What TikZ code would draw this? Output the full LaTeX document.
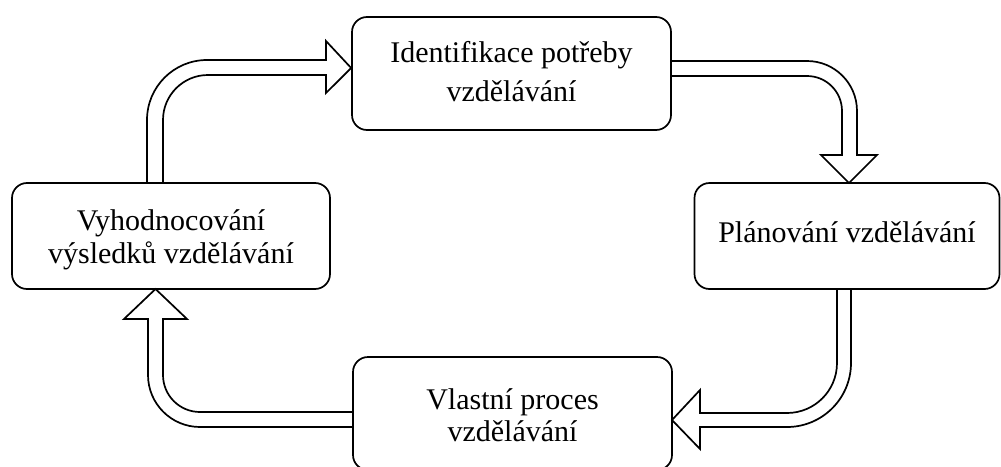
\documentclass[tikz,border=0pt]{standalone}
\usepackage{fontspec}
\setmainfont{Liberation Serif}
\begin{document}
\begin{tikzpicture}[x=1pt,y=-1pt,
  box/.style={draw, line width=1.7pt, rounded corners=15pt, inner sep=0pt},
  boxtext/.style={align=center, inner sep=0pt, font=\fontsize{30}{#1}\selectfont},
  blockarrow/.style={draw, line width=1.7pt, line join=miter}]
\useasboundingbox (0,0) rectangle (1001,466);
\node[box, minimum width=319pt, minimum height=113pt,
  label={[boxtext=39, yshift=2pt]center:Identifikace potřeby\\vzdělávání}] (T) at (511.5,73.5) {};
\node[box, minimum width=305pt, minimum height=106pt,
  label={[boxtext=32, yshift=4pt]center:Plánování vzdělávání}] (R) at (847,236) {};
\node[box, minimum width=319pt, minimum height=113pt,
  label={[boxtext=32, yshift=-2pt]center:Vlastní proces\\vzdělávání}] (B) at (512.5,413.5) {};
\node[box, minimum width=318pt, minimum height=106pt,
  label={[boxtext=33, yshift=-4pt]center:Vyhodnocování\\výsledků vzdělávání}] (L) at (171,236) {};
% L -> T
\draw[blockarrow] (147,183) [rounded corners=60pt] -- (147,60) [sharp corners] -- (326,60)
  -- (326,41) -- (T.west |- 0,68) -- (326,93) -- (326,75) [rounded corners=45pt] -- (163,75) [sharp corners] -- (163,183);
% T -> R
\draw[blockarrow] (671,61) [rounded corners=50pt] -- (857,61) [sharp corners] -- (857,155)
  -- (877,155) -- (849,183) -- (821,155) -- (842,155) [rounded corners=35pt] -- (842,76) [sharp corners] -- (671,76);
% R -> B
\draw[blockarrow] (851,289) [rounded corners=64pt] -- (851,427) [sharp corners] -- (700,427)
  -- (700,449) -- (672,420) -- (700,390) -- (700,413) [rounded corners=50pt] -- (837,413) [sharp corners] -- (837,289);
% B -> L
\draw[blockarrow] (353,427) [rounded corners=52pt] -- (148,427) [sharp corners] -- (148,319)
  -- (124,319) -- (155.5,289) -- (187,319) -- (163,319) [rounded corners=37pt] -- (163,412) [sharp corners] -- (353,412);
\end{tikzpicture}
\end{document}
